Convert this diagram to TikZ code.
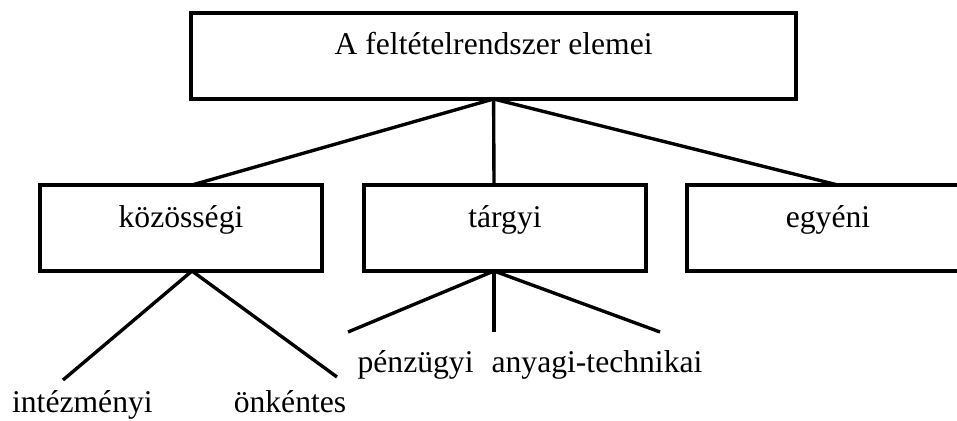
\documentclass[tikz,border=0pt]{standalone}
\usepackage{fontspec}
\setmainfont{Liberation Serif}
\begin{document}
\begin{tikzpicture}[
    font=\fontsize{22.5}{27}\selectfont,
    doboz/.style={draw, line width=2.6pt, inner sep=0pt, outer sep=0pt,
      minimum width=7.05cm, text height=1.05cm, text depth=1.1cm, anchor=north},
    fodoboz/.style={doboz, minimum width=15.125cm},
    ag/.style={line width=2.4pt},
    levelszo/.style={anchor=base, inner sep=0pt}
  ]
  % 1 px = 0,025 cm, a kép 957 x 420 px; a jobb szélső doboz kilóg a képből.
  \useasboundingbox (0,0) rectangle (23.925,10.5);
  \clip (0,0) rectangle (23.925,10.5);

  % --- dobozok ---
  \node[fodoboz] (elemek) at (12.34,10.175) {A feltételrendszer elemei};
  \foreach \nev/\xc/\szoveg in {koz/4.525/közösségi, targy/12.625/tárgyi, egyen/20.7/egyéni}{
    \node[doboz] (\nev) at (\xc,5.875) {\szoveg};
  }

  % --- ágak a fődoboztól ---
  \foreach \nev/\dx in {koz/0.275cm, targy/-0.275cm, egyen/0.25cm}{
    \draw[ag] (elemek.south) -- ([xshift=\dx]\nev.north);
  }

  % --- levelek ---
  \node[levelszo] (intezmenyi) at (2.06,0.19) {intézményi};
  \node[levelszo] (onkentes)   at (7.25,0.19) {önkéntes};
  \node[levelszo] (penzugyi)   at (10.39,1.2)  {pénzügyi};
  \node[levelszo] (anyagi)     at (14.925,1.2) {anyagi-technikai};

  % --- szabad végű ágak ---
  \coordinate (intezmenyiveg) at (1.575,1.0);
  \coordinate (onkentesveg)   at (8.425,1.075);
  \coordinate (balveg)        at (8.7,2.2);
  \coordinate (kozepveg)      at (12.35,2.2);
  \coordinate (jobbveg)       at (16.5,2.2);
  \foreach \cel in {intezmenyiveg, onkentesveg}{
    \draw[ag] ([xshift=0.275cm]koz.south) -- (\cel);
  }
  \foreach \cel in {balveg, kozepveg, jobbveg}{
    \draw[ag] ([xshift=-0.275cm]targy.south) -- (\cel);
  }
\end{tikzpicture}
\end{document}
